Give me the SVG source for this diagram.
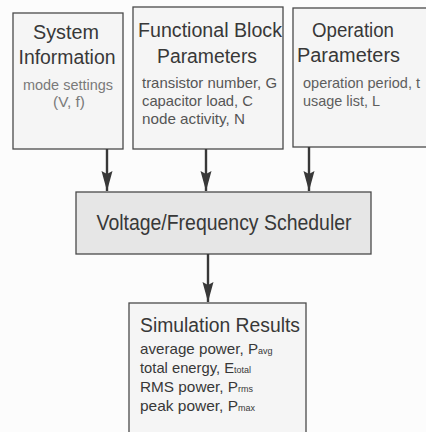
<svg xmlns="http://www.w3.org/2000/svg" width="426" height="432" viewBox="0 0 426 432">
<defs>
<marker id="ah" markerUnits="userSpaceOnUse" markerWidth="22" markerHeight="12" refX="20" refY="5.5" orient="auto">
<path d="M0,0 L20,5.5 L0,11 L3,5.5 Z" fill="#383838"/>
</marker>
<style>
.box{fill:#f5f5f5;stroke:#4a4a4a;stroke-width:1.3}
.sched{fill:#e6e6e6;stroke:#4a4a4a;stroke-width:1.3}
.t{font-family:"Liberation Sans",Arial,sans-serif;fill:#383838}
.title{font-size:20px}
.sub{font-size:15px;fill:#555}
.subl{font-size:15px;fill:#7a7a7a}
.subm{font-size:15px;fill:#5e5e5e}
.res{font-size:15px;fill:#383838}
.s{font-size:9px}
.conn{stroke:#383838;stroke-width:2.4;fill:none}
</style>
</defs>
<rect width="426" height="432" fill="#fcfcfc"/>
<g id="system-info">
<rect class="box" x="13" y="13" width="110" height="136"/>
<text class="t title" x="66" y="39" text-anchor="middle" textLength="66" lengthAdjust="spacingAndGlyphs">System</text>
<text class="t title" x="67" y="64" text-anchor="middle" textLength="97" lengthAdjust="spacingAndGlyphs">Information</text>
<text class="t subl" x="68" y="90" text-anchor="middle" textLength="90" lengthAdjust="spacingAndGlyphs">mode settings</text>
<text class="t subl" x="69" y="107" text-anchor="middle" textLength="32" lengthAdjust="spacingAndGlyphs">(V, f)</text>
</g>
<g id="functional-block">
<rect class="box" x="133" y="7" width="150" height="142"/>
<text class="t title" x="138" y="37" textLength="144" lengthAdjust="spacingAndGlyphs">Functional Block</text>
<text class="t title" x="157" y="63" textLength="100" lengthAdjust="spacingAndGlyphs">Parameters</text>
<text class="t sub" x="142" y="88" textLength="135" lengthAdjust="spacingAndGlyphs">transistor number, G</text>
<text class="t sub" x="142" y="106" textLength="111" lengthAdjust="spacingAndGlyphs">capacitor load, C</text>
<text class="t sub" x="142" y="124" textLength="103" lengthAdjust="spacingAndGlyphs">node activity, N</text>
</g>
<g id="operation-params">
<rect class="box" x="293" y="8" width="140" height="139"/>
<text class="t title" x="312" y="37" textLength="82" lengthAdjust="spacingAndGlyphs">Operation</text>
<text class="t title" x="297" y="62" textLength="103" lengthAdjust="spacingAndGlyphs">Parameters</text>
<text class="t subm" x="303" y="88" textLength="117" lengthAdjust="spacingAndGlyphs">operation period, t</text>
<text class="t subm" x="303" y="106" textLength="77" lengthAdjust="spacingAndGlyphs">usage list, L</text>
</g>
<g id="scheduler">
<rect class="sched" x="76" y="192" width="295" height="62"/>
<text class="t" style="font-size:22px" x="224" y="230" text-anchor="middle" textLength="255" lengthAdjust="spacingAndGlyphs">Voltage/Frequency Scheduler</text>
</g>
<g id="simulation-results">
<rect class="box" x="129" y="303" width="177" height="140"/>
<text class="t title" x="140" y="332" textLength="160" lengthAdjust="spacingAndGlyphs">Simulation Results</text>
<text class="t res" x="140" y="354"><tspan textLength="118" lengthAdjust="spacingAndGlyphs">average power, P</tspan><tspan class="s">avg</tspan></text>
<text class="t res" x="140" y="373"><tspan textLength="94" lengthAdjust="spacingAndGlyphs">total energy, E</tspan><tspan class="s">total</tspan></text>
<text class="t res" x="140" y="392"><tspan textLength="98" lengthAdjust="spacingAndGlyphs">RMS power, P</tspan><tspan class="s">rms</tspan></text>
<text class="t res" x="140" y="411"><tspan textLength="98" lengthAdjust="spacingAndGlyphs">peak power, P</tspan><tspan class="s">max</tspan></text>
</g>
<g id="connectors">
<line class="conn" x1="107" y1="149" x2="107" y2="191" marker-end="url(#ah)"/>
<line class="conn" x1="206" y1="149" x2="206" y2="191" marker-end="url(#ah)"/>
<line class="conn" x1="309" y1="147" x2="309" y2="191" marker-end="url(#ah)"/>
<line class="conn" x1="208" y1="254" x2="208" y2="302" marker-end="url(#ah)"/>
</g>
</svg>
